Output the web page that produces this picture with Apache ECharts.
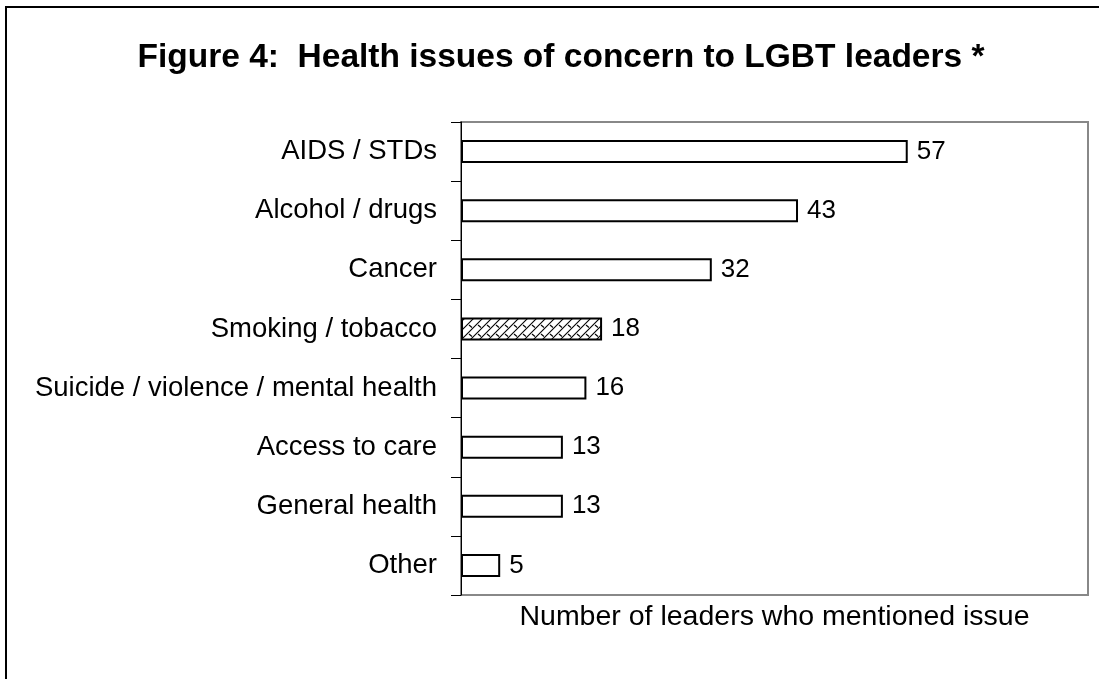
<!DOCTYPE html>
<html><head><meta charset="utf-8">
<script src="https://cdn.jsdelivr.net/npm/echarts@6/dist/echarts.min.js"></script>
<style>html,body{margin:0;padding:0;background:#fff}#c{width:1099px;height:679px}</style>
</head><body><div id="c"></div>
<script>
const categories = ["AIDS / STDs","Alcohol / drugs","Cancer","Smoking / tobacco","Suicide / violence / mental health","Access to care","General health","Other"];
const values = [57,43,32,18,16,13,13,5];
const hatchedCategory = "Smoking / tobacco";

const FONT = '"Liberation Sans", Arial, sans-serif';

function hatch(){
  const c = document.createElement('canvas');
  c.width = 9; c.height = 9;
  const g = c.getContext('2d');
  g.fillStyle = '#fff'; g.fillRect(0,0,9,9);
  g.strokeStyle = '#000'; g.lineWidth = 1.1;
  g.beginPath();
  g.moveTo(0,9); g.lineTo(9,0);
  g.moveTo(-4.5,4.5); g.lineTo(4.5,-4.5);
  g.moveTo(4.5,13.5); g.lineTo(13.5,4.5);
  g.stroke();
  g.beginPath();
  g.moveTo(1,1); g.lineTo(4,3.5);
  g.stroke();
  return c;
}
const pattern = {image: hatch(), repeat: 'repeat'};

const data = categories.map((c,i)=>({
  value: values[i],
  itemStyle: c === hatchedCategory ? {color: pattern} : {}
}));

const chart = echarts.init(document.getElementById('c'), null, {renderer:'canvas'});
chart.setOption({
  animation: false,
  backgroundColor: '#fff',
  title: {
    text: 'Figure 4:  Health issues of concern to LGBT leaders *',
    left: 556, top: 36, textAlign: 'center',
    textStyle: {fontFamily: FONT, fontWeight: 'bold', fontSize: 33.5, color: '#000'}
  },
  graphic: [{
    type: 'rect', shape: {x: 6, y: 7, width: 2000, height: 2000},
    style: {fill: null, stroke: '#000', lineWidth: 2}, z: 100, silent: true
  }],
  grid: {left: 461, right: 11, top: 122, bottom: 84, show: true, borderColor: '#888', borderWidth: 2, backgroundColor: '#fff'},
  xAxis: {
    type: 'value', min: 0, max: 80,
    axisLine: {show: false}, axisTick: {show: false}, axisLabel: {show: false}, splitLine: {show: false},
    name: 'Number of leaders who mentioned issue', nameLocation: 'middle', nameGap: 22,
    nameTextStyle: {fontFamily: FONT, fontSize: 28.5, color: '#000', verticalAlign: 'middle'}
  },
  yAxis: {
    type: 'category', data: categories, inverse: true,
    axisLine: {show: true, lineStyle: {color: '#000', width: 1}},
    axisTick: {show: true, length: 10, lineStyle: {color: '#000'}},
    axisLabel: {fontFamily: FONT, fontSize: 27.5, color: '#000', margin: 24}
  },
  series: [{
    type: 'bar', data: data, barWidth: 23,
    itemStyle: {color: '#fff', borderColor: '#000', borderWidth: 2},
    label: {show: true, position: 'right', distance: 9, fontFamily: FONT, fontSize: 26, color: '#000'}
  }]
});
</script></body></html>
